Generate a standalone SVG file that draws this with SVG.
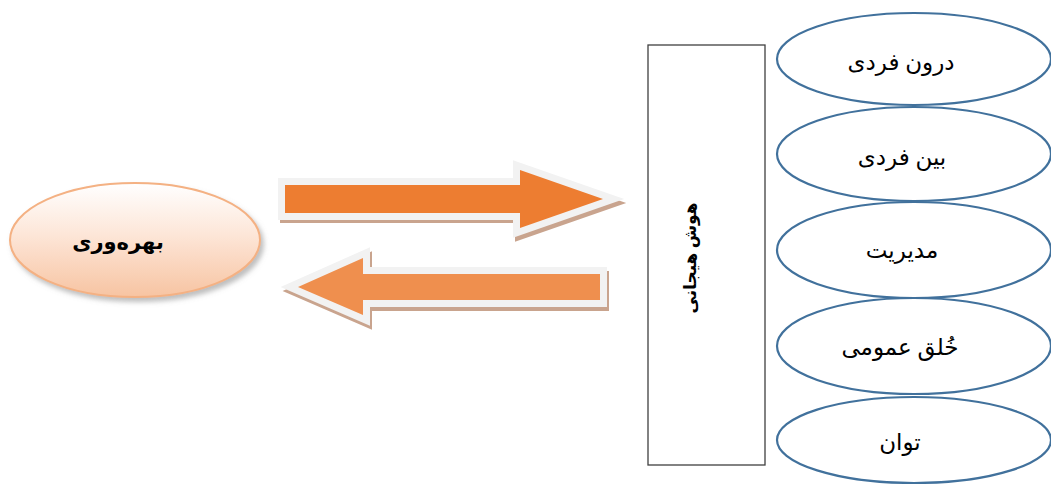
<svg xmlns="http://www.w3.org/2000/svg" width="1051" height="484" viewBox="0 0 1051 484">
<defs>
<linearGradient id="peach" x1="0" y1="0" x2="0" y2="1">
<stop offset="0" stop-color="#ffffff"/>
<stop offset="0.45" stop-color="#fde6d8"/>
<stop offset="1" stop-color="#f7c4a2"/>
</linearGradient>
<filter id="sh" x="-20%" y="-20%" width="150%" height="150%">
<feDropShadow dx="3" dy="4" stdDeviation="2.5" flood-color="#7f7f7f" flood-opacity="0.5"/>
</filter>
</defs>
<style>
.lbl{font-family:"Liberation Serif","DejaVu Serif","DejaVu Sans",serif;font-size:23px;fill:#000;text-anchor:middle}
.bold{font-weight:bold;font-size:21px}
.vert{font-size:17px}
.sub{fill:#fff;stroke:#41719c;stroke-width:2.2}
.arrowBorder{stroke:#f2f2f2;stroke-width:14;stroke-linejoin:miter;paint-order:stroke}
.arrowShadow{fill:#c9a48e;stroke:#c9a48e;stroke-width:14;stroke-linejoin:miter}
</style>
<rect width="1051" height="484" fill="#ffffff"/>
<g id="productivity">
<ellipse cx="135" cy="240" rx="125" ry="57" fill="url(#peach)" stroke="#f4b183" stroke-width="2" filter="url(#sh)"/>
<text class="lbl bold" x="118" y="249" direction="rtl">بهره‌وری</text>
</g>
<g id="connectors">
<g id="arrow-right">
<polygon class="arrowShadow" points="287,189 522,189 522,174 605,203 522,232 522,216 287,216"/>
<polygon class="arrowBorder" fill="#ed7d31" points="285,185 520,185 520,170 603,199 520,228 520,213 285,213"/>
</g>
<g id="arrow-left">
<polygon class="arrowShadow" points="602,278 365,278 365,262 300,291 365,319 365,304 602,304"/>
<polygon class="arrowBorder" fill="#ef8f4e" points="600,274 363,274 363,258 298,287 363,315 363,300 600,300"/>
</g>
</g>
<g id="ei">
<rect x="648" y="45" width="117" height="420" fill="#ffffff" stroke="#404040" stroke-width="1.3"/>
<text class="lbl bold vert" transform="translate(696,258) rotate(-90)" x="0" y="0" direction="rtl">هوش هیجانی</text>
</g>
<g id="intrapersonal">
<ellipse class="sub" cx="914" cy="59" rx="137" ry="46"/>
<text class="lbl" x="901" y="70" direction="rtl">درون فردی</text>
</g>
<g id="interpersonal">
<ellipse class="sub" cx="914" cy="154" rx="137" ry="47"/>
<text class="lbl" x="902" y="165" direction="rtl">بین فردی</text>
</g>
<g id="management">
<ellipse class="sub" cx="914" cy="250" rx="137" ry="48"/>
<text class="lbl" x="902" y="258" direction="rtl">مدیریت</text>
</g>
<g id="mood">
<ellipse class="sub" cx="914" cy="346" rx="137" ry="48"/>
<text class="lbl" x="900" y="355" direction="rtl">خُلق عمومی</text>
</g>
<g id="power">
<ellipse class="sub" cx="914" cy="440" rx="137" ry="43"/>
<text class="lbl" x="900" y="450" direction="rtl">توان</text>
</g>
</svg>
